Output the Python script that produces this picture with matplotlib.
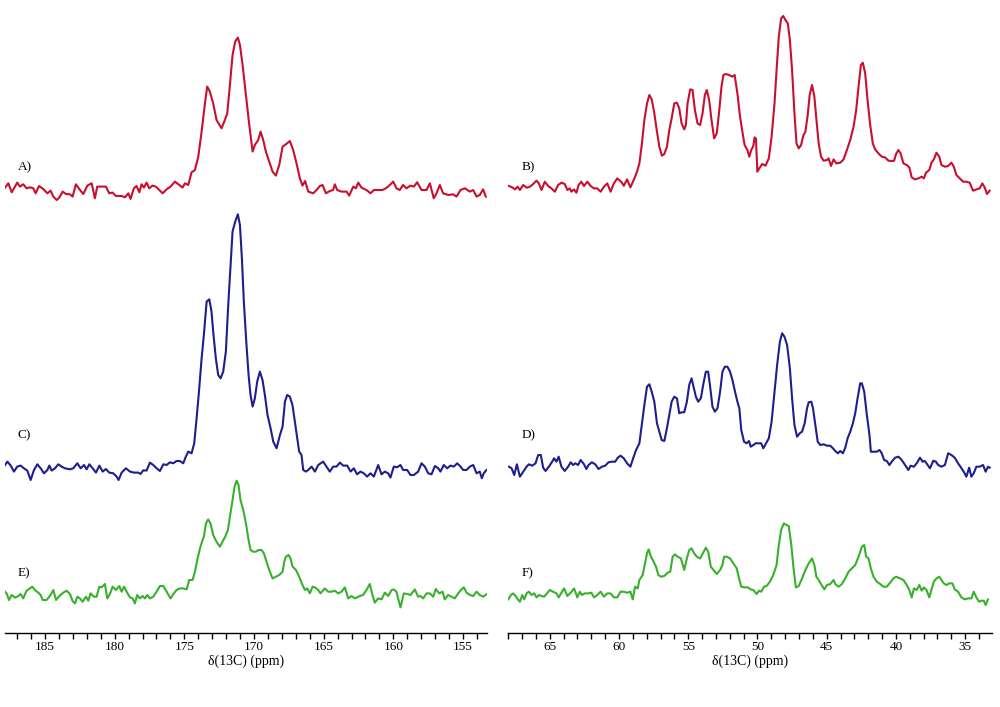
import matplotlib
matplotlib.use("Agg")
import matplotlib.pyplot as plt
from matplotlib.ticker import MultipleLocator

plt.rcParams['font.family'] = ['Liberation Serif', 'DejaVu Serif']

# ---------------- data (ppm, intensity above own baseline) ----------------
A_ppm = [187.94,187.63,187.39,187.15,186.99,186.80,186.56,186.32,186.08,185.84,185.67,185.43,185.12,184.83,184.60,184.40,184.16,183.97,183.73,183.50,183.21,183.02,182.78,182.49,182.25,181.96,181.65,181.42,181.25,180.94,180.63,180.39,180.15,179.91,179.50,179.26,179.02,178.86,178.62,178.43,178.23,178.07,177.90,177.71,177.52,177.28,177.04,176.80,176.56,176.27,175.99,175.68,175.36,175.13,174.96,174.72,174.48,174.24,174.00,173.76,173.52,173.36,173.17,172.93,172.69,172.33,172.09,171.92,171.73,171.54,171.35,171.16,171.01,170.82,170.58,170.34,170.10,169.94,169.70,169.53,169.34,169.15,168.91,168.67,168.43,168.19,167.95,167.71,167.43,167.19,166.95,166.71,166.52,166.33,166.11,165.75,165.51,165.27,165.08,164.84,164.56,164.32,164.20,164.03,163.72,163.36,163.17,162.88,162.69,162.52,162.29,161.93,161.64,161.40,161.09,160.78,160.54,160.25,160.01,159.78,159.54,159.30,159.06,158.77,158.53,158.29,157.98,157.62,157.38,157.10,156.90,156.67,156.43,156.07,155.71,155.47,155.18,154.87,154.51,154.27,154.03,153.80,153.56,153.37]
A_int = [-0.7,5.0,-4.0,1.7,5.7,1.7,4.0,0,1.0,0,-5.0,2.3,-0.7,-5.0,-2.3,-8.3,-11.7,-9.3,-3.3,-5.7,-6.0,-8.3,4.0,-1.7,-5.7,2.7,5.0,-10.0,1.7,1.7,1.7,-5.0,-4.3,-7.7,-7.7,-9.0,-5.0,-10.7,0,2.3,-4.0,4.0,0.7,5.7,0,2.7,1.7,-1.7,-5.0,-1.0,1.7,6.7,3.3,0.7,5.0,3.3,16.0,18.3,31.7,56.7,85.0,101.7,96.7,85.0,68.3,60.0,68.3,75.0,103.3,133.3,146.7,150.7,143.3,123.3,93.3,63.3,36.7,43.3,48.3,56.7,48.3,36.7,26.7,16.7,12.7,23.3,41.7,44.0,47.3,38.3,25.0,10.0,2.7,7.3,-3.3,-5.0,-1.7,2.3,3.3,-5.0,-2.7,-1.7,4.0,-1.7,-3.3,-3.3,-7.3,1.7,0,5.7,0.7,-1.7,-5.0,-1.7,-1.7,-1.7,0,3.3,6.7,0,-1.7,3.3,0,2.7,1.7,6.0,-1.7,-1.7,5.0,-10.0,-5.0,3.3,-5.0,-6.7,-6.0,-8.3,-1.7,0,-3.3,-1.7,-8.3,-6.7,-1.0,-8.3]

C_ppm = [187.94,187.70,187.46,187.23,186.99,186.75,186.51,186.27,186.03,185.79,185.55,185.31,185.07,184.83,184.69,184.52,184.28,184.05,183.81,183.57,183.21,182.97,182.68,182.44,182.20,182.01,181.82,181.58,181.34,181.10,180.86,180.63,180.39,180.10,179.86,179.72,179.50,179.19,178.90,178.62,178.31,178.14,177.95,177.71,177.47,177.23,176.99,176.75,176.51,176.27,176.04,175.80,175.56,175.32,175.08,174.89,174.72,174.48,174.29,174.12,173.95,173.76,173.60,173.40,173.21,173.05,172.93,172.74,172.57,172.40,172.21,172.02,171.85,171.68,171.54,171.35,171.16,171.01,170.87,170.73,170.54,170.39,170.25,170.10,169.94,169.77,169.58,169.39,169.22,169.03,168.81,168.62,168.38,168.14,167.95,167.78,167.62,167.43,167.24,167.07,166.90,166.76,166.59,166.47,166.28,166.11,165.87,165.63,165.39,165.04,164.80,164.56,164.32,164.08,163.84,163.60,163.31,163.07,162.84,162.60,162.36,162.12,161.88,161.64,161.40,161.09,160.85,160.61,160.37,160.21,159.97,159.73,159.49,159.30,159.01,158.77,158.53,158.22,157.98,157.74,157.50,157.26,157.02,156.78,156.62,156.38,156.14,155.90,155.66,155.42,155.18,154.99,154.75,154.51,154.27,154.03,153.80,153.65,153.51,153.32]
C_int = [1.7,6.7,2.7,-3.3,1.7,2.7,0,-2.3,-11.7,-1.7,4.0,0,-5.0,-1.7,2.7,-2.3,0,4.0,1.7,0,-1.0,0,5.0,0,3.3,-1.0,4.0,0,-4.3,2.7,-3.3,-0.7,-4.3,-5.0,-8.3,-11.7,-4.3,0,-3.3,-4.3,-4.3,-5.7,-2.0,-2.3,5.7,3.3,0,-2.7,4.0,3.3,6.0,5.0,7.3,7.3,5.0,11.7,16.7,15.0,25.0,50.0,76.7,110.0,133.3,166.7,169.0,156.7,136.7,110.0,93.3,90.0,96.7,116.7,163.3,203.3,236.7,246.7,254.0,243.3,210.0,166.7,123.3,93.3,73.3,61.7,70.0,86.7,96.7,88.3,73.3,53.3,40.0,26.7,20.0,33.3,41.7,66.7,73.3,71.7,63.3,46.7,30.0,16.7,13.3,-1.7,-3.3,-1.7,1.7,-3.3,3.3,6.7,1.7,-3.3,1.7,1.7,5.7,2.7,2.7,-3.3,0,-6.0,-3.3,-5.0,-8.3,-5.0,-8.3,3.3,-6.0,-3.3,-5.0,-9.3,1.7,1.0,3.3,-1.7,-1.7,-6.7,-6.7,-3.3,5.0,1.7,-5.0,-6.0,2.3,0,-3.3,3.3,0,2.7,1.7,5.0,1.7,-1.7,-1.7,1.7,3.3,-5.0,-3.3,-10.0,-5.0,-1.7]

E_ppm = [187.94,187.75,187.58,187.39,187.15,186.91,186.75,186.56,186.32,186.08,185.91,185.72,185.48,185.31,185.17,184.88,184.60,184.40,184.21,183.97,183.69,183.45,183.21,183.02,182.85,182.68,182.49,182.30,182.06,181.89,181.73,181.49,181.30,181.10,180.94,180.70,180.53,180.34,180.15,179.91,179.67,179.50,179.33,179.10,178.90,178.71,178.55,178.38,178.19,177.99,177.83,177.66,177.47,177.23,176.99,176.75,176.51,176.27,175.99,175.75,175.56,175.32,175.08,174.84,174.65,174.41,174.24,174.07,173.88,173.69,173.60,173.45,173.29,173.12,172.93,172.69,172.45,172.26,172.07,171.87,171.73,171.54,171.40,171.25,171.11,170.97,170.77,170.58,170.39,170.25,170.06,169.87,169.67,169.46,169.29,169.10,168.91,168.67,168.43,168.19,167.95,167.83,167.71,167.52,167.38,167.23,166.99,166.76,166.52,166.35,166.18,165.99,165.80,165.63,165.39,165.23,164.92,164.68,164.44,164.20,163.96,163.72,163.48,163.24,163.00,162.76,162.41,162.17,161.93,161.69,161.50,161.33,161.09,160.85,160.61,160.37,160.13,159.97,159.78,159.66,159.49,159.25,159.01,158.77,158.46,158.22,158.05,157.86,157.62,157.38,157.14,156.95,156.71,156.47,156.31,156.07,155.83,155.59,155.35,155.11,154.94,154.75,154.51,154.27,154.03,153.80,153.56,153.32]
E_int = [6.0,3.3,-3.3,1.7,-1.0,0.7,2.7,-1.7,6.0,8.3,10.0,6.7,4.0,1.7,-3.3,-3.3,1.7,6.7,-3.3,0.7,4.0,6.0,2.7,-4.3,-6.7,0,-1.7,-5.0,0,-4.0,3.3,0,0,10.0,9.3,12.7,-1.7,2.7,10.0,6.7,10.7,5.0,10.0,4.0,-0.7,-1.7,-6.7,1.7,-1.7,0.7,-1.7,1.7,-1.7,0,5.0,10.7,10.7,5.0,-1.7,3.3,6.7,8.3,8.3,7.3,16.7,16.7,25.0,36.7,48.3,56.7,60.0,73.3,77.3,73.3,61.7,55.0,50.0,55.0,60.0,66.7,80.0,96.7,110.0,116.0,111.7,96.7,86.7,73.3,56.7,46.7,45.0,45.0,46.7,46.7,43.3,35.0,26.7,18.3,20.0,21.7,25.0,35.0,40.0,41.7,38.3,30.0,26.7,20.0,11.7,6.7,8.3,3.3,10.0,9.3,6.7,3.3,8.3,5.0,5.0,6.0,3.3,5.0,9.3,-1.7,0.7,-1.7,0.7,1.7,6.7,12.7,1.7,-6.0,-1.7,-2.7,4.0,0.7,6.7,7.3,5.0,-1.7,-10.7,3.3,2.7,1.7,7.3,0,0.7,-1.7,3.3,3.3,0,7.7,3.3,5.0,-2.7,1.7,0,-1.7,3.3,7.3,9.3,4.0,1.7,0.7,5.0,1.7,0,2.3]

B_ppm = [67.95,67.71,67.52,67.33,67.16,66.92,66.68,66.44,66.20,65.96,65.79,65.60,65.36,65.12,64.88,64.64,64.40,64.16,63.92,63.73,63.56,63.44,63.25,63.08,62.92,62.72,62.53,62.29,62.05,61.81,61.57,61.33,61.09,60.85,60.61,60.37,60.13,59.85,59.655,59.42,59.18,58.94,58.70,58.53,58.36,58.17,57.98,57.81,57.64,57.45,57.26,57.09,56.90,56.73,56.54,56.37,56.20,56.01,55.82,55.65,55.48,55.29,55.17,55.05,54.86,54.69,54.52,54.33,54.14,53.97,53.80,53.66,53.49,53.32,53.13,52.94,52.77,52.60,52.46,52.29,52.05,51.81,51.65,51.45,51.26,51.09,50.93,50.73,50.59,50.45,50.30,50.21,50.11,50.01,49.87,49.66,49.42,49.18,48.98,48.77,48.62,48.46,48.29,48.14,47.98,47.81,47.66,47.50,47.33,47.18,47.02,46.85,46.70,46.54,46.37,46.23,46.06,45.89,45.75,45.58,45.41,45.22,44.98,44.86,44.69,44.50,44.31,44.02,43.78,43.54,43.30,43.06,42.87,42.70,42.53,42.39,42.22,42.05,41.86,41.67,41.50,41.26,41.02,40.78,40.54,40.30,40.13,39.99,39.82,39.66,39.46,39.22,39.03,38.86,38.62,38.38,38.14,37.98,37.83,37.59,37.43,37.26,37.07,36.87,36.71,36.46,36.23,35.99,35.82,35.63,35.39,35.15,34.91,34.67,34.43,34.19,33.95,33.76,33.59,33.42,33.23]
B_int = [0.7,-0.7,-2.7,0,-3.3,1.7,-1.0,0,2.7,6.0,3.3,-3.3,5.0,0.7,-1.7,-5.0,1.7,4.0,2.7,-3.3,-1.7,-5.0,-2.7,-6.0,1.7,5.0,0.7,5.0,0.7,-1.7,-1.7,-5.0,0,3.3,-5.0,3.3,8.3,5.0,1.0,7.3,-0.7,6.7,15.0,23.3,41.7,66.7,83.3,91.7,87.3,73.3,55.0,40.0,31.0,32.7,40.0,56.7,68.3,83.3,84.0,78.3,63.3,57.3,61.7,83.3,97.3,96.7,76.7,63.3,61.7,73.3,91.7,96.7,86.7,66.7,48.3,53.3,75.0,100.0,111.7,112.7,111.7,110.0,111.7,93.3,70.0,55.0,41.7,36.7,30.0,36.7,40.7,49.3,48.3,15.0,18.3,22.7,21.0,28.3,50.0,83.3,116.7,150.0,168.3,170.7,166.7,163.3,146.7,116.7,73.3,43.3,38.3,41.7,50.7,55.0,71.7,91.7,101.7,90.0,68.3,43.3,30.0,26.0,26.7,28.3,20.7,27.3,23.3,24.0,27.3,36.7,46.7,60.0,76.7,100.0,121.7,124.0,113.3,86.7,61.7,43.3,37.3,33.3,30.0,29.3,26.0,25.7,26.0,32.7,36.7,33.3,23.3,21.7,19.3,9.3,7.3,8.3,10.0,8.3,14.0,16.7,24.0,27.3,34.0,30.0,21.7,20.0,20.7,24.0,20.0,11.7,8.3,5.0,5.0,4.0,-4.0,-2.7,-1.7,3.3,-0.7,-7.3,-4.0]

D_ppm = [67.95,67.76,67.57,67.38,67.16,66.92,66.68,66.51,66.27,66.03,65.84,65.65,65.48,65.31,65.07,64.83,64.69,64.52,64.36,64.16,63.92,63.68,63.49,63.32,63.16,62.96,62.77,62.53,62.36,62.20,61.96,61.72,61.48,61.24,61.00,60.76,60.52,60.28,60.09,59.89,59.655,59.42,59.18,58.94,58.77,58.53,58.36,58.17,57.98,57.81,57.64,57.45,57.26,57.09,56.92,56.73,56.54,56.37,56.20,56.01,55.82,55.65,55.48,55.29,55.10,54.93,54.76,54.62,54.45,54.28,54.09,53.90,53.73,53.56,53.42,53.25,53.08,52.89,52.70,52.53,52.36,52.17,51.98,51.81,51.65,51.45,51.31,51.17,50.97,50.78,50.61,50.49,50.30,50.13,49.89,49.73,49.58,49.42,49.18,48.98,48.77,48.58,48.38,48.22,48.05,47.86,47.66,47.50,47.33,47.14,46.95,46.78,46.59,46.42,46.30,46.11,45.99,45.82,45.65,45.46,45.22,44.98,44.74,44.55,44.38,44.19,44.02,43.83,43.66,43.49,43.30,43.11,42.94,42.77,42.58,42.46,42.29,42.10,41.91,41.81,41.62,41.38,41.19,41.02,40.85,40.66,40.47,40.30,40.06,39.82,39.58,39.34,39.10,38.94,38.70,38.50,38.26,38.07,37.91,37.74,37.54,37.30,37.11,36.95,36.71,36.46,36.23,35.99,35.75,35.51,35.34,35.10,34.91,34.71,34.55,34.38,34.19,33.95,33.71,33.52,33.35,33.23]
D_int = [-1.7,-3.3,-10.0,0.7,-11.7,-6.7,-1.7,0.7,-0.7,1.7,10.0,10.0,-2.7,-6.0,-1.7,3.3,6.7,3.3,8.3,-1.7,-6.0,-1.7,2.7,0,1.7,0,5.0,0.7,-4.0,0,2.7,0.7,-4.0,-1.7,-0.7,2.7,3.3,3.3,7.3,9.3,6.7,1.7,-1.7,8.3,15.0,21.7,40.0,60.0,78.3,80.7,73.3,63.3,41.7,33.3,25.0,24.0,36.7,50.0,63.3,68.3,66.7,51.7,52.7,52.7,63.3,80.0,86.7,78.3,68.3,63.3,66.7,81.7,93.3,93.3,78.3,58.3,53.3,56.7,73.3,93.3,98.3,98.3,93.3,85.0,75.0,63.3,56.7,35.0,23.3,21.7,24.0,18.3,20.0,21.7,21.7,21.7,16.7,20.7,26.7,43.3,73.3,100.0,123.3,131.7,128.3,120.0,96.7,66.7,40.0,28.3,31.7,33.3,41.7,56.7,62.7,63.3,56.7,40.0,23.3,20.0,20.7,19.3,19.3,16.7,14.0,11.7,14.0,11.7,17.3,26.7,33.3,41.7,51.7,66.7,81.7,81.7,73.3,50.0,30.0,13.3,13.3,13.3,15.0,11.7,5.0,4.0,0,3.3,7.3,8.3,5.0,0,-5.0,-0.7,-1.7,1.7,7.3,3.3,4.0,0.7,-3.3,4.3,3.3,0,-1.7,0,11.7,10.0,7.3,1.7,-1.7,-6.7,-11.7,-2.7,-11.7,-8.3,-1.7,-1.7,0,-6.7,-1.7,-2.7]

F_ppm = [68.00,67.81,67.64,67.47,67.28,67.16,66.99,66.85,66.68,66.51,66.32,66.13,65.96,65.79,65.60,65.41,65.24,65.00,64.76,64.52,64.36,64.16,63.97,63.73,63.49,63.25,63.01,62.84,62.68,62.48,62.24,62.00,61.81,61.57,61.33,61.09,60.85,60.61,60.37,60.13,59.89,59.655,59.42,59.18,59.01,58.84,58.65,58.53,58.29,58.12,57.98,57.86,57.69,57.50,57.33,57.16,56.97,56.73,56.49,56.30,56.13,55.96,55.77,55.53,55.29,55.10,54.93,54.76,54.57,54.38,54.14,53.95,53.73,53.56,53.37,53.18,52.94,52.70,52.53,52.41,52.22,51.98,51.74,51.50,51.33,51.17,50.93,50.69,50.49,50.30,50.06,49.89,49.73,49.53,49.34,49.10,48.86,48.62,48.46,48.29,48.10,47.90,47.74,47.57,47.38,47.23,47.02,46.78,46.54,46.30,46.06,45.89,45.75,45.58,45.41,45.17,44.98,44.74,44.50,44.38,44.14,43.90,43.66,43.42,43.18,42.94,42.70,42.46,42.29,42.15,41.98,41.81,41.62,41.38,41.14,40.90,40.66,40.42,40.18,39.99,39.70,39.46,39.22,39.03,38.86,38.70,38.50,38.31,38.14,37.98,37.79,37.59,37.43,37.26,37.07,36.87,36.71,36.54,36.35,36.16,35.92,35.75,35.51,35.27,35.03,34.79,34.55,34.38,34.19,34.00,33.83,33.66,33.52,33.35]
F_int = [-2.7,1.7,3.3,0.7,-3.3,-5.0,1.7,-2.7,3.3,5.0,1.7,3.3,-0.7,1.7,0.7,0,2.7,6.7,5.0,3.3,-0.7,4.0,8.3,0.7,4.0,8.3,-0.7,5.0,1.7,3.3,3.3,4.0,-0.7,1.7,5.0,0,3.3,3.3,-0.7,-0.7,5.0,5.0,4.0,5.0,-2.7,10.0,8.3,16.7,21.7,33.3,43.3,47.3,40.0,35.0,30.0,21.7,20.0,20.7,24.0,25.0,40.0,42.3,40.0,38.3,26.7,38.3,46.7,48.3,43.3,40.0,38.3,43.3,49.0,45.0,30.0,26.7,22.7,26.7,31.7,40.0,40.0,38.3,33.3,28.3,18.3,10.0,9.3,9.3,7.3,6.7,2.7,6.0,5.0,10.0,10.7,15.0,21.7,31.7,51.7,66.7,73.3,71.7,70.7,53.3,26.7,9.3,10.7,18.3,26.7,33.3,38.3,31.7,20.0,16.7,12.7,7.3,11.7,12.7,16.7,12.7,10.0,12.7,18.3,25.0,28.3,31.7,40.0,50.0,51.7,40.0,38.3,28.3,20.0,15.0,12.7,10.0,10.0,14.0,18.3,20.0,18.3,16.7,11.7,6.7,-0.7,8.3,6.7,11.7,6.0,9.3,6.7,-0.7,7.3,15.0,18.3,20.0,16.7,13.3,11.7,13.3,13.3,7.3,5.0,-0.7,-2.7,-1.7,-1.7,5.0,-0.7,-5.0,-4.0,-4.0,-8.3,-2.7]

left_labels = ["A)", "C)", "E)"]
right_labels = ["B)", "D)", "F)"]
xlabel_text = "δ(13C) (ppm)"

red = "#C8102E"
blue = "#1E1E8C"
green = "#38B02C"

# ---------------- figure ----------------
W, H = 1000, 707
fig = plt.figure(figsize=(W / 100, H / 100), dpi=100)

axis_y = 633  # pixel row of the x-axis line


def make_axes(x0, x1, lim):
    ax = fig.add_axes([x0 / W, (H - axis_y) / H, (x1 - x0) / W, axis_y / H])
    ax.set_xlim(*lim)
    ax.set_ylim(0, axis_y)
    for s in ("left", "right", "top"):
        ax.spines[s].set_visible(False)
    ax.spines["bottom"].set_linewidth(1.0)
    ax.set_yticks([])
    ax.xaxis.set_major_locator(MultipleLocator(5))
    ax.xaxis.set_minor_locator(MultipleLocator(1))
    ax.tick_params(axis="x", which="both", direction="out", length=4, width=1.0,
                   labelsize=9.5, pad=2)
    ax.set_xlabel(xlabel_text, fontsize=10, labelpad=0.5)
    ax.patch.set_alpha(0)
    return ax


axL = make_axes(5, 487, (187.87, 153.28))
axR = make_axes(508, 992, (68.02, 33.06))

lw = 1.5
# offsets = axis_y - baseline pixel row
axL.plot(A_ppm, [v + (axis_y - 188.3) for v in A_int], color=red, lw=lw)
axL.plot(C_ppm, [v + (axis_y - 468.3) for v in C_int], color=blue, lw=lw)
axL.plot(E_ppm, [v + (axis_y - 596.7) for v in E_int], color=green, lw=lw)
axR.plot(B_ppm, [v + (axis_y - 186.7) for v in B_int], color=red, lw=lw)
axR.plot(D_ppm, [v + (axis_y - 465.0) for v in D_int], color=blue, lw=lw)
axR.plot(F_ppm, [v + (axis_y - 596.7) for v in F_int], color=green, lw=lw)

label_rows = [167, 435, 573]
for lab, yy in zip(left_labels, label_rows):
    fig.text(18 / W, 1 - yy / H, lab, fontsize=9.5, va="center", ha="left")
for lab, yy in zip(right_labels, label_rows):
    fig.text(522 / W, 1 - yy / H, lab, fontsize=9.5, va="center", ha="left")

fig.savefig("out.png", dpi=100)
